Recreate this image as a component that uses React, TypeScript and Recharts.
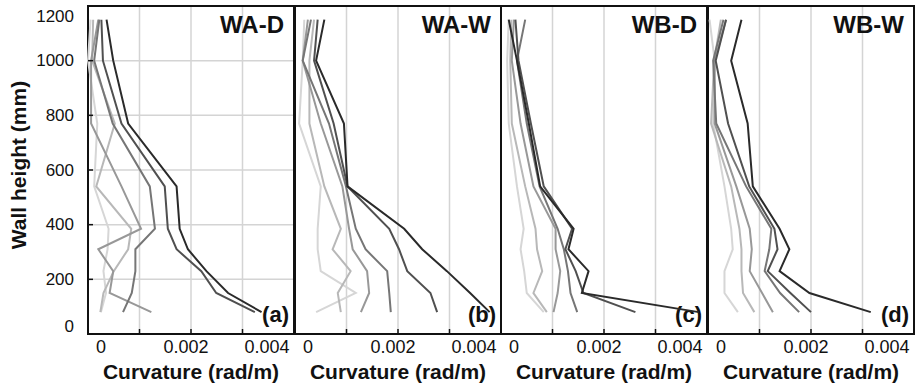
import React from "react";
import { LineChart, Line, XAxis, YAxis, CartesianGrid, ReferenceArea } from "recharts";

const FONT = "'Liberation Sans', Arial, Helvetica, sans-serif";

// Measurement heights along the wall (mm)
const HEIGHTS = [1150, 1000, 770, 540, 385, 310, 230, 150, 80];

const Y_TICKS = [0, 200, 400, 600, 800, 1000, 1200];
const X_TICKS = [0, 0.001, 0.002, 0.003, 0.004];
const X_LABELS = [0, 0.002, 0.004];
const X_LABEL_SHIFT = [13, -5, -27];

// Stage colours, lightest (early) to darkest (late)
const SHADES = ["#d6d6d6", "#b8b8b8", "#989898", "#767676", "#505050", "#2a2a2a"];

// Curvature profiles in 1e-3 rad/m, one row per stage, top to bottom of wall
const waD = [
  [0.05, 0.0, 0.18, 0.12, 0.4, 0.38, 0.3, 0.35, 0.25],
  [0.1, 0.08, 0.52, 0.16, 0.84, 0.78, 0.5, 0.3, 0.24],
  [0.2, 0.06, 0.06, 0.65, 1.03, 0.2, 0.49, 0.42, 1.23],
  [0.22, 0.12, 0.48, 1.2, 1.3, 0.92, 0.92, 0.85, 0.68],
  [0.26, 0.29, 0.65, 1.49, 1.55, 1.72, 2.2, 2.49, 3.24],
  [0.36, 0.49, 0.78, 1.72, 1.78, 1.94, 2.3, 2.72, 3.37],
];
const waW = [
  [0.18, 0.15, 0.08, 0.5, 0.44, 0.44, 0.5, 1.18, 0.41],
  [0.37, 0.28, 0.28, 0.57, 0.89, 0.73, 1.08, 0.83, 0.89],
  [0.25, 0.15, 0.5, 0.92, 1.05, 1.12, 1.4, 1.44, 1.28],
  [0.31, 0.15, 0.66, 0.99, 1.18, 1.37, 1.79, 1.83, 1.86],
  [0.44, 0.37, 0.75, 1.02, 1.83, 2.02, 2.18, 2.63, 2.76],
  [0.57, 0.41, 0.95, 1.02, 2.12, 2.47, 2.95, 3.4, 3.78],
];
const wbD = [
  [0.15, 0.12, 0.15, 0.31, 0.44, 0.38, 0.45, 0.5, 0.83],
  [0.2, 0.18, 0.21, 0.47, 0.67, 0.7, 0.8, 0.63, 0.89],
  [0.25, 0.21, 0.38, 0.63, 1.06, 1.06, 1.15, 1.1, 1.02],
  [0.47, 0.31, 0.5, 0.75, 1.1, 1.22, 1.3, 1.35, 1.48],
  [0.28, 0.34, 0.58, 0.83, 1.38, 1.25, 1.45, 1.6, 2.61],
  [0.15, 0.31, 0.54, 0.76, 1.41, 1.31, 1.7, 1.57, 3.84],
];
const wbW = [
  [0.03, 0.13, 0.1, 0.32, 0.45, 0.48, 0.32, 0.32, 0.58],
  [0.25, 0.12, 0.06, 0.45, 0.61, 0.65, 0.65, 0.68, 0.9],
  [0.35, 0.13, 0.13, 0.55, 0.81, 0.85, 0.81, 1.05, 1.26],
  [0.3, 0.1, 0.16, 0.74, 1.23, 1.19, 1.1, 1.4, 1.77],
  [0.35, 0.15, 0.39, 0.8, 1.29, 1.35, 1.16, 1.6, 2.0],
  [0.65, 0.45, 0.77, 0.87, 1.39, 1.58, 1.39, 1.97, 3.16],
];

const PANELS = [
  { title: "WA-D", tag: "(a)", series: waD },
  { title: "WA-W", tag: "(b)", series: waW },
  { title: "WB-D", tag: "(c)", series: wbD },
  { title: "WB-W", tag: "(d)", series: wbW },
];

const PLOT_LEFT = [88, 294.5, 501, 707.5];
const PLOT_W = 206;
const TOP = 6;
const PLOT_H = 328;
const CHART_H = 387;
const PAD = 2;

const toRows = (series: number[][]) =>
  HEIGHTS.map((h, i) => {
    const row: Record<string, number> = { h };
    series.forEach((s, k) => {
      row["s" + k] = s[i] / 1000;
    });
    return row;
  });

const XTick = (props: any) => {
  const { x, y, payload } = props;
  const i = X_LABELS.indexOf(payload.value);
  if (i < 0) return null;
  return (
    <text x={x + X_LABEL_SHIFT[i]} y={y + 24} textAnchor="middle" fontSize={18} fill="#111" fontFamily={FONT}>
      {String(payload.value)}
    </text>
  );
};

const YTick = (props: any) => {
  const { x, y, payload } = props;
  const v = payload.value;
  const shift = v === 1200 ? 10 : v === 0 ? -8 : 0;
  return (
    <text x={x - 19} y={y + shift} textAnchor="end" dominantBaseline="central" fontSize={17} fill="#111" fontFamily={FONT}>
      {v}
    </text>
  );
};

const xTitle = (props: any) => {
  const vb = props.viewBox;
  return (
    <text x={vb.x + vb.width / 2} y={vb.y + 45} textAnchor="middle" fontSize={21} fontWeight="bold" fill="#111" fontFamily={FONT}>
      Curvature (rad/m)
    </text>
  );
};

const yTitle = (props: any) => {
  const vb = props.viewBox;
  const cx = 18;
  const cy = vb.y + vb.height / 2 - 5;
  return (
    <text
      x={cx}
      y={cy}
      transform={`rotate(-90, ${cx}, ${cy})`}
      textAnchor="middle"
      dominantBaseline="central"
      fontSize={21}
      fontWeight="bold"
      fill="#111"
      fontFamily={FONT}
    >
      Wall height (mm)
    </text>
  );
};

function Panel({ index }: { index: number }) {
  const { title, tag, series } = PANELS[index];
  const first = index === 0;
  const yWidth = first ? PLOT_LEFT[0] : 0;
  const left = first ? 0 : PLOT_LEFT[index] - PAD;
  const width = yWidth + PLOT_W + PAD + (first ? 0 : PAD);
  const rows = toRows(series);

  const titleLabel = (p: any) => {
    const vb = p.viewBox;
    return (
      <text x={vb.x + vb.width - 10} y={vb.y + 27} textAnchor="end" fontSize={24} fontWeight="bold" fill="#111" fontFamily={FONT}>
        {title}
      </text>
    );
  };
  const tagLabel = (p: any) => {
    const vb = p.viewBox;
    return (
      <text x={vb.x + vb.width - 5} y={vb.y + vb.height - 12} textAnchor="end" fontSize={22} fontWeight="bold" fill="#111" fontFamily={FONT}>
        {tag}
      </text>
    );
  };

  return (
    <div style={{ position: "absolute", left, top: 0 }}>
      <LineChart
        layout="vertical"
        width={width}
        height={CHART_H}
        data={rows}
        margin={{ top: TOP, right: PAD, bottom: 0, left: first ? 0 : PAD }}
      >
        <CartesianGrid stroke="#d4d4d4" strokeWidth={1.5} />
        <XAxis
          type="number"
          domain={[0, 0.004]}
          ticks={X_TICKS}
          interval={0}
          height={CHART_H - TOP - PLOT_H}
          axisLine={false}
          tickSize={-5}
          tickMargin={0}
          tickLine={{ stroke: "#111", strokeWidth: 1.5 }}
          tick={<XTick />}
          label={xTitle}
        />
        <YAxis
          type="number"
          dataKey="h"
          domain={[0, 1200]}
          reversed
          ticks={Y_TICKS}
          interval={0}
          width={yWidth}
          axisLine={false}
          tickSize={-5}
          tickMargin={0}
          tickLine={{ stroke: "#111", strokeWidth: 1.5 }}
          tick={first ? <YTick /> : false}
          label={first ? yTitle : undefined}
        />
        {series.map((_, k) => (
          <Line
            key={k}
            dataKey={"s" + k}
            stroke={SHADES[k]}
            strokeWidth={2}
            dot={false}
            isAnimationActive={false}
          />
        ))}
        <ReferenceArea
          x1={0}
          x2={0.004}
          y1={0}
          y2={1200}
          fill="none"
          stroke="#111"
          strokeWidth={2}
          ifOverflow="visible"
          label={titleLabel}
        />
        <ReferenceArea x1={0} x2={0.004} y1={0} y2={1200} fill="none" stroke="none" ifOverflow="visible" label={tagLabel} />
      </LineChart>
    </div>
  );
}

export default function App() {
  return (
    <div style={{ position: "absolute", left: 0, top: 0, width: 916, height: 387, background: "#fff" }}>
      {PANELS.map((_, i) => (
        <Panel key={i} index={i} />
      ))}
    </div>
  );
}
